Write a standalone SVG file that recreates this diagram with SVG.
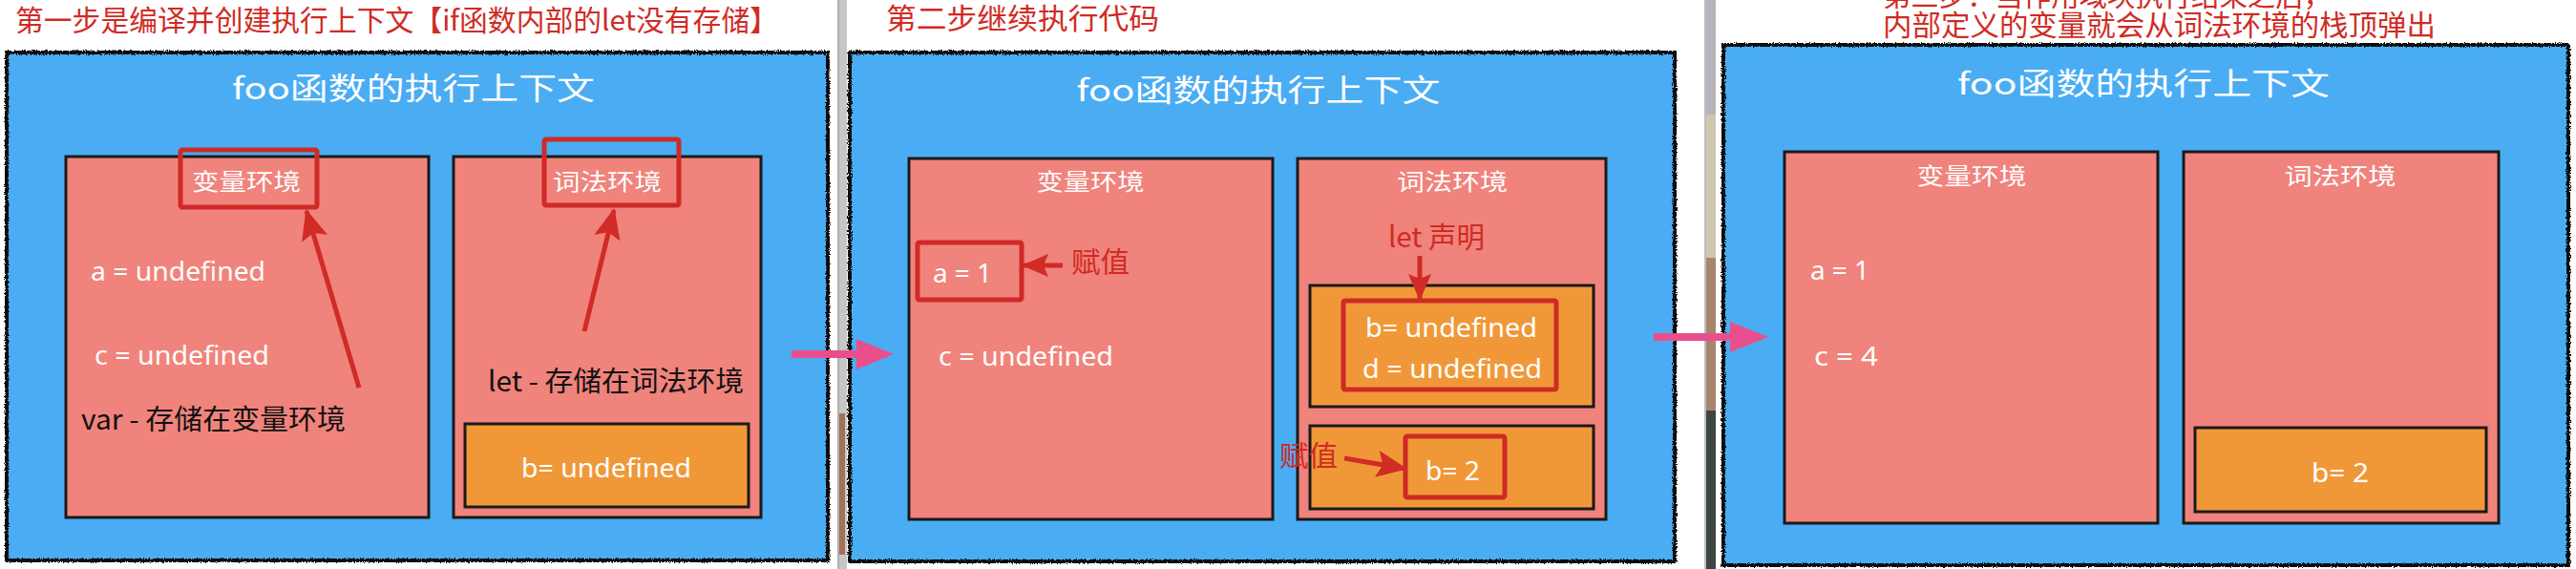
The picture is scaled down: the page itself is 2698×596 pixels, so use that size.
<svg xmlns="http://www.w3.org/2000/svg" width="2698" height="596" viewBox="0 0 2698 596">
<defs>
<filter id="rough" x="-2%" y="-2%" width="104%" height="104%">
<feTurbulence type="fractalNoise" baseFrequency="0.8" numOctaves="2" seed="3" result="n"/>
<feDisplacementMap in="SourceGraphic" in2="n" scale="4" xChannelSelector="R" yChannelSelector="G"/>
</filter>
<marker id="redHead" markerUnits="userSpaceOnUse" markerWidth="32" markerHeight="28" refX="30" refY="14" orient="auto">
<path d="M0,0 L32,14 L0,28 L6,14 Z" fill="#d02b25"/>
</marker>
<marker id="redHeadS" markerUnits="userSpaceOnUse" markerWidth="28" markerHeight="24" refX="26" refY="12" orient="auto">
<path d="M0,0 L28,12 L0,24 L5,12 Z" fill="#d02b25"/>
</marker>
</defs>
<style>
.blue{fill:#4aacf3}
.rough{fill:none;stroke:#111;stroke-width:4}
.pink{fill:#f0837c;stroke:#1a1a1a;stroke-width:3}
.orange{fill:#f09838;stroke:#1a1a1a;stroke-width:3}
.hl{fill:none;stroke:#cf2a26;stroke-width:5}
.ctx{font-family:"Noto Sans CJK SC","Noto Sans",sans-serif;font-size:32px;fill:#fff;text-anchor:middle}
.env{font-family:"Noto Sans CJK SC","Noto Sans",sans-serif;font-size:24px;fill:#fff;text-anchor:middle}
.val{font-family:"Noto Sans","Liberation Sans",sans-serif;font-size:28px;fill:#fff}
.blk{font-family:"Noto Sans CJK SC","Noto Sans",sans-serif;font-size:29px;fill:#111}
.red{font-family:"Noto Sans CJK SC","Noto Sans",sans-serif;font-size:30px;fill:#d02b25}
.rline{stroke:#d02b25;stroke-width:5;fill:none}
.pinkA{fill:#e94f8a}
</style>
<rect x="0" y="0" width="2698" height="596" fill="#ffffff"/>
<!-- gap separators -->
<rect x="877" y="0" width="10" height="596" fill="#c6c6c6"/>
<rect x="877" y="0" width="2" height="596" fill="#b0b0b0"/>
<rect x="879" y="433" width="6" height="148" fill="#a5705a"/>
<rect x="1785" y="0" width="2" height="596" fill="#bdbdbd"/>
<rect x="1787" y="0" width="10" height="120" fill="#b8b4bc"/>
<rect x="1787" y="120" width="10" height="150" fill="#cfc6b0"/>
<rect x="1787" y="270" width="10" height="160" fill="#a8866e"/>
<rect x="1787" y="430" width="10" height="166" fill="#3d4640"/>

<g id="title1"><text class="red" x="16" y="32" textLength="799" lengthAdjust="spacingAndGlyphs">第一步是编译并创建执行上下文【if函数内部的let没有存储】</text></g>
<g id="title2"><text class="red" x="928" y="30" textLength="286" lengthAdjust="spacingAndGlyphs">第二步继续执行代码</text></g>
<g id="title3">
<text class="red" x="1972" y="6" textLength="470" lengthAdjust="spacingAndGlyphs">第三步：当作用域块执行结束之后，</text>
<text class="red" x="1972" y="37" textLength="579" lengthAdjust="spacingAndGlyphs">内部定义的变量就会从词法环境的栈顶弹出</text>
</g>

<!-- Panel 1 -->
<g id="ctx1">
<rect class="blue" x="7" y="55" width="860" height="532"/>
<rect class="rough" x="7" y="55" width="860" height="532" filter="url(#rough)"/>
<text class="ctx" x="433" y="104" textLength="380" lengthAdjust="spacingAndGlyphs">foo函数的执行上下文</text>
</g>
<g id="varEnv1">
<rect class="pink" x="69" y="164" width="380" height="378"/>
<text class="env" x="258" y="199" textLength="114" lengthAdjust="spacingAndGlyphs">变量环境</text>
<rect class="hl" x="189" y="157" width="143" height="60" rx="2"/>
<text class="val" x="95" y="294" textLength="183" lengthAdjust="spacingAndGlyphs">a = undefined</text>
<text class="val" x="99" y="382" textLength="183" lengthAdjust="spacingAndGlyphs">c = undefined</text>
<text class="blk" x="85" y="450" textLength="277" lengthAdjust="spacingAndGlyphs">var - 存储在变量环境</text>
</g>
<g id="lexEnv1">
<rect class="pink" x="475" y="164" width="322" height="378"/>
<text class="env" x="636" y="199" textLength="114" lengthAdjust="spacingAndGlyphs">词法环境</text>
<rect class="hl" x="570" y="146" width="141" height="69" rx="2"/>
<text class="blk" x="511" y="410" textLength="268" lengthAdjust="spacingAndGlyphs">let - 存储在词法环境</text>
</g>
<g id="block1">
<rect class="orange" x="487" y="444" width="297" height="87"/>
<text class="val" x="546" y="500" textLength="178" lengthAdjust="spacingAndGlyphs">b= undefined</text>
</g>

<!-- Panel 2 -->
<g id="ctx2">
<rect class="blue" x="890" y="55" width="864" height="533"/>
<rect class="rough" x="890" y="55" width="864" height="533" filter="url(#rough)"/>
<text class="ctx" x="1318" y="106" textLength="381" lengthAdjust="spacingAndGlyphs">foo函数的执行上下文</text>
</g>
<g id="varEnv2">
<rect class="pink" x="952" y="166" width="381" height="378"/>
<text class="env" x="1142" y="199" textLength="113" lengthAdjust="spacingAndGlyphs">变量环境</text>
<rect class="hl" x="961" y="254" width="109" height="60" rx="2"/>
<text class="val" x="977" y="296" textLength="62" lengthAdjust="spacingAndGlyphs">a = 1</text>
<text class="val" x="983" y="383" textLength="183" lengthAdjust="spacingAndGlyphs">c = undefined</text>
</g>
<g id="lexEnv2">
<rect class="pink" x="1359" y="166" width="323" height="378"/>
<text class="env" x="1521" y="199" textLength="116" lengthAdjust="spacingAndGlyphs">词法环境</text>
</g>
<g id="block2a">
<rect class="orange" x="1372" y="299" width="297" height="127"/>
<rect class="hl" x="1407" y="315" width="223" height="93" rx="2"/>
<text class="val" x="1430" y="353" textLength="180" lengthAdjust="spacingAndGlyphs">b= undefined</text>
<text class="val" x="1427" y="396" textLength="188" lengthAdjust="spacingAndGlyphs">d = undefined</text>
</g>
<g id="block2b">
<rect class="orange" x="1372" y="446" width="297" height="87"/>
<rect class="hl" x="1472" y="457" width="104" height="64" rx="2"/>
<text class="val" x="1493" y="503" textLength="57" lengthAdjust="spacingAndGlyphs">b= 2</text>
</g>
<g id="labels2">
<text class="red" x="1122" y="285" textLength="61" lengthAdjust="spacingAndGlyphs">赋值</text>
<text class="red" x="1454" y="259" textLength="101" lengthAdjust="spacingAndGlyphs">let 声明</text>
<text class="red" x="1340" y="488" textLength="61" lengthAdjust="spacingAndGlyphs">赋值</text>
</g>

<!-- Panel 3 -->
<g id="ctx3">
<rect class="blue" x="1805" y="47" width="885" height="545"/>
<rect class="rough" x="1805" y="47" width="885" height="545" filter="url(#rough)"/>
<text class="ctx" x="2245" y="99" textLength="390" lengthAdjust="spacingAndGlyphs">foo函数的执行上下文</text>
</g>
<g id="varEnv3">
<rect class="pink" x="1869" y="159" width="391" height="389"/>
<text class="env" x="2065" y="193" textLength="115" lengthAdjust="spacingAndGlyphs">变量环境</text>
<text class="val" x="1896" y="293" textLength="62" lengthAdjust="spacingAndGlyphs">a = 1</text>
<text class="val" x="1900" y="383" textLength="67" lengthAdjust="spacingAndGlyphs">c = 4</text>
</g>
<g id="lexEnv3">
<rect class="pink" x="2287" y="159" width="330" height="389"/>
<text class="env" x="2451" y="193" textLength="117" lengthAdjust="spacingAndGlyphs">词法环境</text>
</g>
<g id="block3">
<rect class="orange" x="2299" y="448" width="305" height="88"/>
<text class="val" x="2421" y="505" textLength="60" lengthAdjust="spacingAndGlyphs">b= 2</text>
</g>

<!-- connectors -->
<g id="connectors">
<line class="rline" x1="376" y1="406" x2="321" y2="221" marker-end="url(#redHead)"/>
<line class="rline" x1="612" y1="347" x2="643" y2="220" marker-end="url(#redHead)"/>
<line class="rline" x1="1113" y1="278" x2="1072" y2="278" marker-end="url(#redHeadS)"/>
<line class="rline" x1="1487" y1="268" x2="1487" y2="313" marker-end="url(#redHeadS)"/>
<line class="rline" x1="1408" y1="480" x2="1472" y2="491" stroke-width="6" marker-end="url(#redHead)"/>
<path class="pinkA" d="M829,367 L897,367 L897,355 L936,371 L897,387 L897,375 L829,375 Z"/>
<path class="pinkA" d="M1732,349 L1812,349 L1812,337 L1852,353 L1812,369 L1812,357 L1732,357 Z"/>
</g>
</svg>
